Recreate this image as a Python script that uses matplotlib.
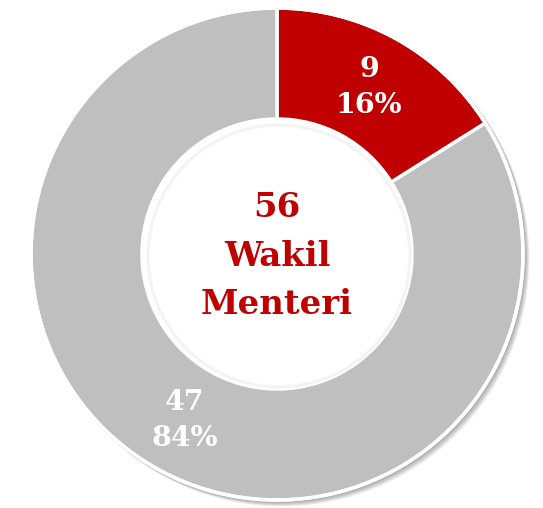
import matplotlib
matplotlib.use("Agg")
import matplotlib.pyplot as plt
from matplotlib.patches import Circle, Wedge

categories = ["Kategori A", "Kategori B"]
values = [9, 47]
colors = ["#C00000", "#BFBFBF"]
center_lines = ["56", "Wakil", "Menteri"]

W, H = 543, 508
fig = plt.figure(figsize=(W / 100, H / 100), dpi=100)
ax = fig.add_axes([0, 0, 1, 1])

cx, cy = 277, H - 254
R_out, R_in = 246, 135
ring_w = R_out - R_in

# soft drop shadow
for i in range(6):
    off = 1 + i * 0.8
    ax.add_patch(Wedge((cx + off, cy - off), R_out + 1.5, 0, 360,
                       width=ring_w + 3, facecolor="black", alpha=0.06,
                       edgecolor="none", zorder=0))

total = sum(values)


def fmt(pct):
    v = int(round(pct * total / 100.0))
    return f"{v}\n{pct:.0f}%"


wedges, texts, autotexts = ax.pie(
    values, colors=colors, radius=R_out, center=(cx, cy),
    startangle=90, counterclock=False, autopct=fmt,
    pctdistance=(R_out - ring_w / 2) / R_out,
    wedgeprops=dict(width=ring_w, edgecolor="white", linewidth=2.5),
    textprops=dict(color="white", fontsize=20.5, fontweight="bold",
                   family="DejaVu Serif", linespacing=1.45),
)
for w in wedges:
    w.set_zorder(2)
for t in autotexts:
    t.set_zorder(5)

# white outer edge
ax.add_patch(Circle((cx, cy), R_out, facecolor="none", edgecolor="white",
                    linewidth=2.5, zorder=3))
# inner hole with faint inner shadow
ax.add_patch(Circle((cx, cy), R_in - 1, facecolor="white", edgecolor="white",
                    linewidth=2.5, zorder=3))
for i in range(3):
    ax.add_patch(Circle((cx + 2, cy - 2), R_in - 3 - i, facecolor="none",
                        edgecolor="black", alpha=0.025, linewidth=1.5, zorder=3.5))

ax.text(cx, cy - 2, "\n".join(center_lines), ha="center", va="center",
        color="#C00000", fontsize=24.5, fontweight="bold",
        family="DejaVu Serif", linespacing=1.6, zorder=6)

ax.set_xlim(0, W)
ax.set_ylim(0, H)
ax.set_aspect("equal")
ax.set_axis_off()
fig.savefig("out.png", dpi=100, facecolor="white")
